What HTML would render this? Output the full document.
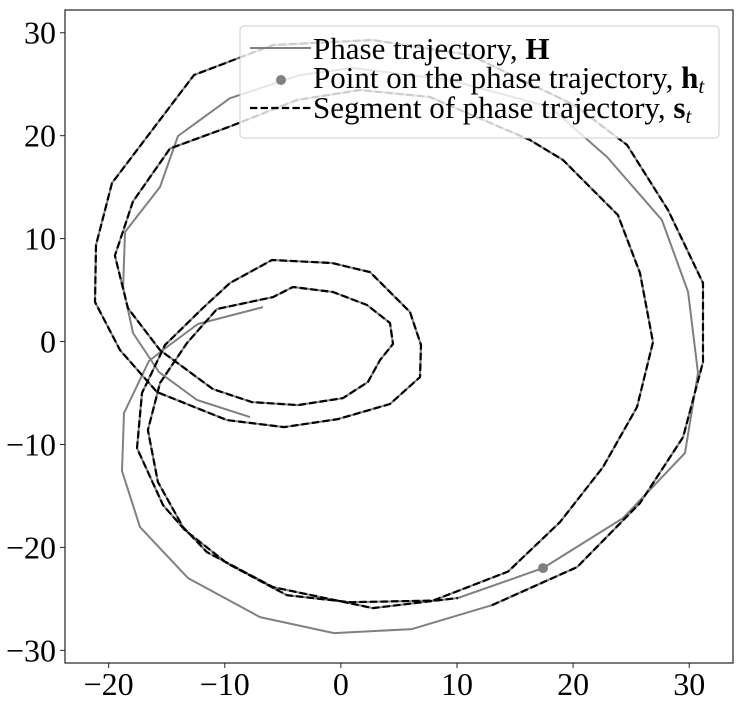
<!DOCTYPE html>
<html><head><meta charset="utf-8"><style>
html,body{margin:0;padding:0;background:#fff;}
svg{display:block;font-family:"Liberation Serif","DejaVu Serif",serif;}
</style></head><body>
<svg id="chart" width="745" height="705" viewBox="0 0 745 705" xmlns="http://www.w3.org/2000/svg">
<rect x="0" y="0" width="745" height="705" fill="#fff"/>
<g id="plot"></g>
<g id="axes"></g>
<g id="legend"></g>
</svg>
<script>
// Phase trajectory H (x values, y values)
const hX = [-6.71,-12.31,-14.98,-16.53,-18.68,-18.85,-17.30,-13.17,-6.97,-0.59,6.12,
 13.01,20.34,25.76,29.47,31.19,31.19,28.17,24.64,20.16,11.12,2.76,-5.85,-12.65,-19.71,-21.09,-21.18,-19.02,-15.84,-9.81,-4.90,-0.25,4.23,6.81,6.90,5.95,2.51,-0.77,-5.93,-9.55,-11.88,-15.15,-17.13,-17.56,-15.32,-13.43,-9.81,-4.64,0.78,7.93,14.39,18.87,22.57,25.50,26.88,25.76,23.86,19.13,16.29,7.67,1.64,-3.78,-9.55,-14.72,-17.91,-19.46,-18.34,-15.58,-11.02,-7.66,-3.70,0.18,2.33,3.37,4.49,4.23,2.25,-0.68,-4.13,-5.85,-10.67,-13.26,-15.58,-16.62,-15.76,-13.60,-11.54,-5.85,2.76,10.08,
 17.41,24.30,29.64,30.76,29.90,27.65,22.93,18.01,9.40,1.04,-3.52,-9.55,-14.03,-15.58,-18.59,-18.76,-17.90,-15.67,-12.39,-7.83];
const hY = [3.35,1.70,-0.53,-1.89,-6.95,-12.58,-18.03,-22.98,-26.77,-28.33,-27.94,
 -25.61,-21.91,-15.70,-9.28,-1.99,5.69,12.78,19.10,22.94,27.84,29.30,28.81,25.90,15.40,9.38,3.84,-0.83,-4.91,-7.63,-8.31,-7.53,-6.07,-3.45,-0.34,2.87,6.75,7.63,7.92,5.69,3.26,-0.34,-5.00,-10.35,-15.89,-18.32,-21.53,-24.64,-25.32,-25.17,-22.35,-17.54,-12.20,-6.37,-0.05,6.66,12.29,17.64,19.58,23.76,24.44,23.47,20.89,18.75,13.60,8.35,3.25,-0.83,-4.62,-5.88,-6.17,-5.49,-3.93,-1.80,-0.24,1.80,3.55,4.81,5.30,4.32,3.16,-0.15,-4.03,-8.60,-13.65,-18.03,-20.46,-23.86,-25.90,-24.92,
 -22.01,-17.15,-10.83,-3.06,4.81,11.81,17.93,22.79,25.41,26.58,25.90,23.64,19.97,15.01,10.64,5.30,0.83,-2.96,-5.68,-7.34];
// segment s_t: indices into H
const segStart = 11;
const segEnd = 89;
// point h_t
const ptX = [17.41];
const ptY = [-22.01];
const xTicks = [-20,-10,0,10,20,30];
const yTicks = [-30,-20,-10,0,10,20,30];
const xDomain = [-23.76, 33.77];
const yDomain = [-31.23, 32.21];

const L=65, R=733, T=10, B=663;
function sx(v){return L+(v-xDomain[0])/(xDomain[1]-xDomain[0])*(R-L);}
function sy(v){return B-(v-yDomain[0])/(yDomain[1]-yDomain[0])*(B-T);}
const NS="http://www.w3.org/2000/svg";
function mk(tag,attrs,parent){const e=document.createElementNS(NS,tag);for(const k in attrs)e.setAttribute(k,attrs[k]);parent.appendChild(e);return e;}
const plot=document.getElementById('plot'), axes=document.getElementById('axes'), leg=document.getElementById('legend');

let d=hX.map((x,i)=>(i?'L':'M')+sx(x).toFixed(1)+','+sy(hY[i]).toFixed(1)).join(' ');
const hp=mk('path',{d:d,fill:'none',stroke:'#808080','stroke-width':2,'stroke-linejoin':'round'},plot);



let sd='';
for(let i=segStart;i<=segEnd;i++){sd+=(i===segStart?'M':'L')+sx(hX[i]).toFixed(1)+','+sy(hY[i]).toFixed(1)+' ';}
const sp=mk('path',{d:sd,fill:'none',stroke:'#000','stroke-width':2.2,'stroke-dasharray':'7.4,3.2','stroke-linejoin':'round'},plot);



ptX.forEach((x,i)=>{
  const c=mk('circle',{cx:sx(x),cy:sy(ptY[i]),r:5,fill:'#808080'},plot);
  
  
});

const frame=mk('rect',{x:L,y:T,width:R-L,height:B-T,fill:'none',stroke:'#222','stroke-width':1.2},axes);



xTicks.forEach(t=>{
  const x=sx(t);
  mk('line',{x1:x,x2:x,y1:B,y2:B+5,stroke:'#222','stroke-width':1},axes);
  const tx=mk('text',{x:x,y:695,'font-size':32,'text-anchor':'middle',fill:'#000'},axes);
  tx.textContent=(t<0?'\u2212':'')+Math.abs(t);
  
  
});
yTicks.forEach(t=>{
  const y=sy(t);
  mk('line',{x1:L-5,x2:L,y1:y,y2:y,stroke:'#222','stroke-width':1},axes);
  const tx=mk('text',{x:56,y:y+11,'font-size':32,'text-anchor':'end',fill:'#000'},axes);
  tx.textContent=(t<0?'\u2212':'')+Math.abs(t);
  
  
});

const lb=mk('rect',{x:240,y:26,width:479,height:112,rx:4,fill:'#fff','fill-opacity':0.8,stroke:'#ccc','stroke-width':1},leg);


const e1=mk('line',{x1:250,x2:311,y1:48,y2:48,stroke:'#808080','stroke-width':2},leg);


const e2=mk('circle',{cx:281,cy:80,r:5,fill:'#808080'},leg);


const e3=mk('line',{x1:250,x2:311,y1:108,y2:108,stroke:'#000','stroke-width':2.2,'stroke-dasharray':'7.4,3.2'},leg);


</script>
<svg style="position:absolute;left:0;top:0" width="745" height="705">
<text x="313" y="59" font-size="31" font-family="Liberation Serif, serif">Phase trajectory, <tspan font-weight="bold">H</tspan></text>
<text x="313" y="88" font-size="31" font-family="Liberation Serif, serif">Point on the phase trajectory, <tspan font-weight="bold">h</tspan><tspan font-style="italic" font-size="21" dy="5">t</tspan></text>
<text x="313" y="118" font-size="31" font-family="Liberation Serif, serif">Segment of phase trajectory, <tspan font-weight="bold">s</tspan><tspan font-style="italic" font-size="21" dy="5">t</tspan></text>
</svg>
</body></html>
